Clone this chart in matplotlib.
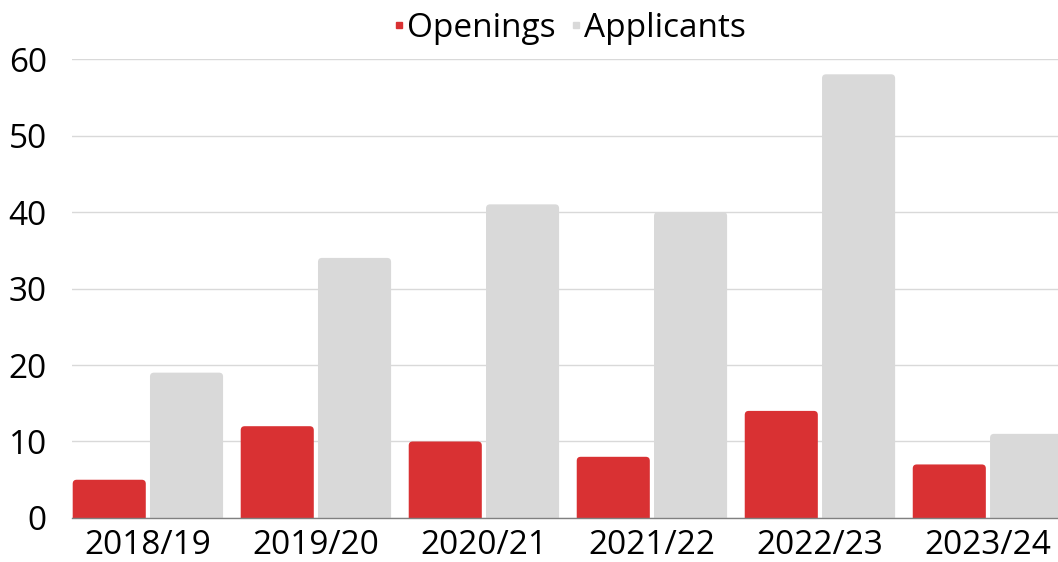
import matplotlib.pyplot as plt
from matplotlib.patches import FancyBboxPatch
from matplotlib.lines import Line2D
import numpy as np

plt.rcParams['font.family'] = ['Open Sans', 'DejaVu Sans']

years = ["2018/19", "2019/20", "2020/21", "2021/22", "2022/23", "2023/24"]
openings = [5, 12, 10, 8, 14, 7]
applicants = [19, 34, 41, 40, 58, 11]

red = "#D93133"
grey = "#D9D9D9"

fig = plt.figure(figsize=(10.58, 5.62), dpi=100)
ax = fig.add_axes([0.068, 0.0783, 0.932, 0.8167])

x = np.arange(len(years))
w = 0.435
off = 0.23
b1 = ax.bar(x - off, openings, w, color=red)
b2 = ax.bar(x + off, applicants, w, color=grey)

# swap the plain bars for ones with slightly rounded tops
xlim = (-0.452, 5.417)
ylim = (0, 60)
ax.set_xlim(*xlim)
ax.set_ylim(*ylim)
px_x = (xlim[1] - xlim[0]) / (1058 * 0.932)
px_y = (ylim[1] - ylim[0]) / (562 * 0.8167)
for rect in list(b1.patches) + list(b2.patches):
    rx, ry = rect.get_x(), rect.get_y()
    rw, rh = rect.get_width(), rect.get_height()
    fb = FancyBboxPatch((rx, ry - 2), rw, rh + 2,
                        boxstyle="round,pad=0,rounding_size=%f" % (4 * px_x),
                        mutation_aspect=px_y / px_x,
                        facecolor=rect.get_facecolor(), edgecolor="none",
                        zorder=2)
    rect.set_visible(False)
    ax.add_patch(fb)

ax.set_yticks(range(0, 61, 10))
ax.yaxis.grid(True, color="#D9D9D9", linewidth=1)
ax.set_axisbelow(True)
for s in ["top", "right", "left"]:
    ax.spines[s].set_visible(False)
ax.spines["bottom"].set_color("#808080")
ax.spines["bottom"].set_linewidth(1)
ax.spines["bottom"].set_zorder(3)
ax.set_xticks(x)
ax.set_xticklabels(years)
ax.tick_params(axis="both", length=0, labelsize=24, colors="black")
ax.tick_params(axis="y", pad=18)
ax.tick_params(axis="x", pad=8)

handles = [Line2D([], [], linestyle="none", marker="s", markersize=4.5,
                  color=red, label="Openings"),
           Line2D([], [], linestyle="none", marker="s", markersize=4.5,
                  color=grey, label="Applicants")]
fig.legend(handles=handles, loc="center", bbox_to_anchor=(0.537, 0.95),
           ncol=2, frameon=False, fontsize=24, handletextpad=0.0,
           columnspacing=0.35, handlelength=0.5)

fig.savefig("out.png", dpi=100)
